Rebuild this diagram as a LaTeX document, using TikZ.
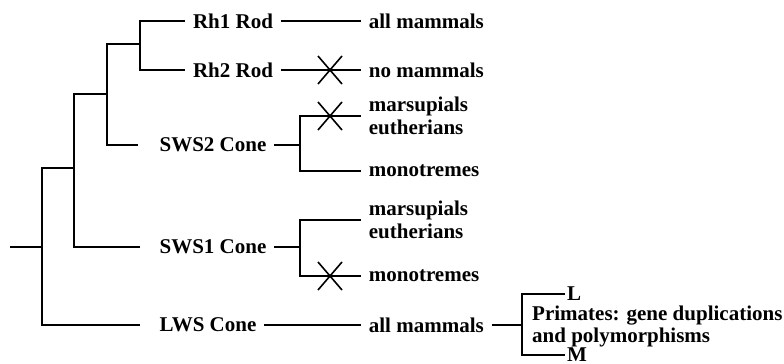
\documentclass[tikz,border=0pt]{standalone}
\usepackage{fontspec}
\setmainfont{Liberation Serif}
\tikzset{
  branch/.style={line width=1.2pt},
  lost/.style={line width=0.8pt},
  taxon/.style={font=\fontsize{10.5}{11.5}\selectfont\bfseries},
  fate/.style={taxon,anchor=west,align=left},
}
\begin{document}
\begin{tikzpicture}[x=0.5pt,y=-0.5pt,branch]
  \useasboundingbox (0,0) rectangle (784,364);
  \pgfmathsetmacro{\fx}{361}
  \pgfmathsetmacro{\kx}{330}

  % inner nodes of the tree
  \coordinate (root) at (10,247);
  \coordinate (n0) at (42,247);
  \coordinate (n1) at (74,168);
  \coordinate (n2) at (107,94);
  \coordinate (n3) at (140,44);
  \coordinate (s2) at (300,145);
  \coordinate (s1) at (300,247);
  \coordinate (p0) at (522,325);

  % opsin classes
  \node[taxon] (rh1) at (233,21) {Rh1 Rod};
  \node[taxon] (rh2) at (233,70) {Rh2 Rod};
  \node[taxon] (sws2) at (213,145) {SWS2 Cone};
  \node[taxon] (sws1) at (213,247) {SWS1 Cone};
  \node[taxon] (lws) at (208,325) {LWS Cone};

  % what is left in the mammals
  \node[fate] (rh1m) at (\fx,21) {all mammals};
  \node[fate] (rh2m) at (\fx,70) {no mammals};
  \node[fate] (s2a) at (\fx,116) {marsupials\\eutherians};
  \node[fate] (s2b) at (\fx,171) {monotremes};
  \node[fate] (s1a) at (\fx,220) {marsupials\\eutherians};
  \node[fate] (s1b) at (\fx,276) {monotremes};
  \node[fate] (lwsm) at (\fx,325) {all mammals};
  \node[taxon,anchor=west,inner sep=0.5pt] (lop) at (565,294) {L};
  \node[taxon,anchor=west,inner sep=0.5pt] (mop) at (565,355) {M};
  \node[fate,inner sep=0.5pt,font=\fontsize{10.5}{11}\selectfont\bfseries] (prim)
       at (530,326) {Primates: gene duplications\\and polymorphisms};

  \draw (root) -- (n0);
  \draw (n0) |- (n1);
  \draw[shorten >=6pt] (n0) |- (lws);
  \draw (n1) |- (n2);
  \draw[shorten >=6pt] (n1) |- (sws1);
  \draw (n2) |- (n3);
  \draw[shorten >=7pt] (n2) |- (sws2);
  \draw (n3) |- (rh1);
  \draw (n3) |- (rh2);

  \draw (rh1) -- (rh1m);
  \draw (rh2) -- (rh2m);
  \draw (sws2) -- (s2);
  \draw (s2) |- (s2a);
  \draw (s2) |- (s2b);
  \draw (sws1) -- (s1);
  \draw (s1) |- (s1a);
  \draw (s1) |- (s1b);
  \draw (lws) -- (lwsm);
  \draw (lwsm) -- (p0);
  \draw (p0) |- (lop);
  \draw (p0) |- (mop);

  % lost genes
  \foreach \y in {70,116,276}
  \draw[lost] (\kx,\y) +(-12,-14) -- +(12,14) (\kx,\y) +(-12,14) -- +(12,-14);
\end{tikzpicture}
\end{document}
